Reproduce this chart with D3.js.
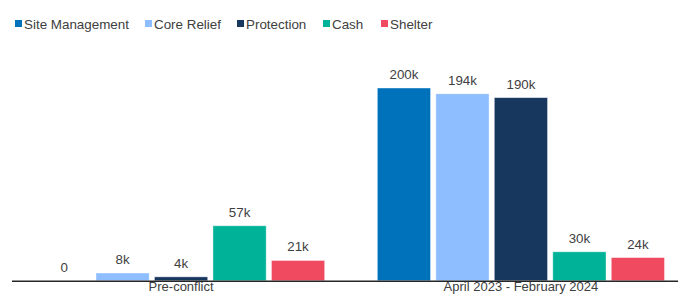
<!DOCTYPE html>
<html>
<head>
<meta charset="utf-8">
<script src="https://cdn.jsdelivr.net/npm/d3@7"></script>
<style>
  body { margin: 0; background: #fff; }
  text { font-family: "Liberation Sans", Arial, sans-serif; }
</style>
</head>
<body>
<svg id="chart" width="678" height="295"></svg>
<script>
// Data (thousands of people).
const periods = ["Pre-conflict", "April 2023 - February 2024"];
const sectors = ["Site Management", "Core Relief", "Protection", "Cash", "Shelter"];
const preConflict = [0, 8, 4, 57, 21];
const duringConflict = [200, 194, 190, 30, 24];
const sectorColors = ["#0072BC", "#8EBEFF", "#18375F", "#00B398", "#EF4A60"];

const seriesByPeriod = [preConflict, duringConflict];

const svg = d3.select("#chart");

const x0 = d3.scaleBand()
    .domain(periods)
    .range([11, 691])
    .paddingInner(0.155)
    .paddingOuter(0.078);

const x1 = d3.scaleBand()
    .domain(sectors)
    .range([0, x0.bandwidth()])
    .paddingInner(0.09);

const y = d3.scaleLinear()
    .domain([0, 200])
    .range([280.7, 88]);

// Bars, grouped by period
const groups = svg.selectAll("g.period")
    .data(periods)
    .enter().append("g")
    .attr("class", "period")
    .attr("transform", d => `translate(${x0(d)},0)`);

groups.selectAll("rect")
    .data((p, i) => sectors.map((s, j) => ({sector: s, value: seriesByPeriod[i][j], color: sectorColors[j]})))
    .enter().append("rect")
    .attr("x", d => x1(d.sector))
    .attr("y", d => y(d.value))
    .attr("width", x1.bandwidth())
    .attr("height", d => y(0) - y(d.value))
    .attr("fill", d => d.color)
    .attr("stroke", "rgba(255,255,255,0.5)")
    .attr("stroke-width", 0.8);

groups.selectAll("text.value")
    .data((p, i) => sectors.map((s, j) => ({sector: s, value: seriesByPeriod[i][j]})))
    .enter().append("text")
    .attr("class", "value")
    .attr("x", d => x1(d.sector) + x1.bandwidth() / 2)
    .attr("y", d => y(d.value) - 9)
    .attr("text-anchor", "middle")
    .attr("font-size", 13.3)
    .attr("fill", "#404040")
    .text(d => d.value === 0 ? "0" : d.value + "k");

// Category axis (labels kept just inside the bottom edge)
const xAxis = d3.axisBottom(x0).tickSize(0).tickPadding(1.5);
const axisG = svg.append("g")
    .attr("transform", `translate(0,${y(0)})`)
    .call(xAxis);
axisG.select(".domain")
    .attr("d", "M12,0.5H678")
    .attr("stroke", "#262626")
    .attr("stroke-width", 1.5);
axisG.selectAll("text")
    .attr("font-size", 13)
    .attr("font-family", "'Liberation Sans', Arial, sans-serif")
    .attr("fill", "#404040");

// Legend
const legendX = [15, 145, 237, 323, 381];
const legend = svg.selectAll("g.legend")
    .data(sectors)
    .enter().append("g")
    .attr("class", "legend")
    .attr("transform", (d, i) => `translate(${legendX[i]},24)`);

legend.append("rect")
    .attr("x", 0)
    .attr("y", -4)
    .attr("width", 7)
    .attr("height", 7)
    .attr("fill", (d, i) => sectorColors[i]);

legend.append("text")
    .attr("x", 9)
    .attr("y", 4.5)
    .attr("font-size", 13.4)
    .attr("fill", "#404040")
    .text(d => d);
</script>
</body>
</html>
